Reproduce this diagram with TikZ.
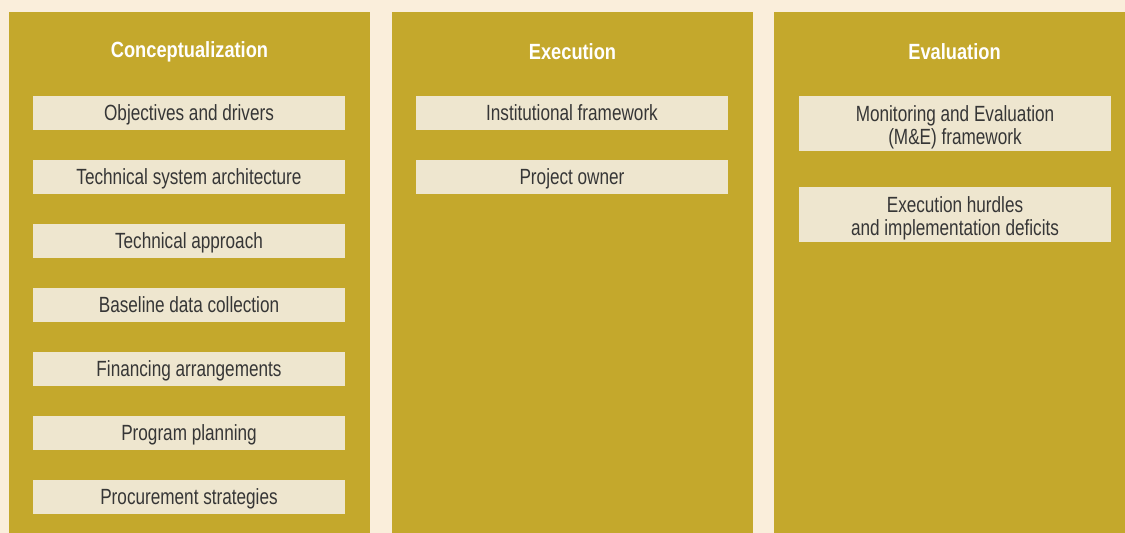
\documentclass[tikz,border=0pt]{standalone}
\usepackage{fontspec}
\setmainfont{Liberation Sans}[FakeStretch=0.78]
\newfontfamily\headfont{Liberation Sans}[FakeStretch=0.83]
\usepackage{xcolor}
\usetikzlibrary{calc}

\definecolor{paper}{HTML}{FAEEDB}
\definecolor{gold}{HTML}{C4A82C}
\definecolor{boxfill}{HTML}{EEE6CF}
\definecolor{ink}{HTML}{363636}

\begin{document}
\begin{tikzpicture}[x=1pt, y=-1pt,
    phase/.style={fill=gold, inner sep=0pt, anchor=north west},
    title/.style={text=white, font=\headfont\fontsize{22}{24}\selectfont\bfseries},
    itembase/.style={fill=boxfill, text=ink, inner sep=0pt, minimum width=312pt, align=center, font=\fontsize{22}{23.6}\selectfont},
    item/.style={itembase, minimum height=34pt, text height=14pt, text depth=0pt},
    item2/.style={itembase, minimum height=55pt, text height=47pt}]
      \fill[paper] (0, 0) rectangle (1125, 533);
      \useasboundingbox (0, 0) rectangle (1125, 533);

      \node[phase, minimum width=361pt, minimum height=521pt] (c) at (9, 12) {};
      \node[phase, minimum width=361pt, minimum height=521pt] (x) at (392, 12) {};
      \node[phase, minimum width=351pt, minimum height=521pt] (v) at (774, 12) {};

      \node[title] (c0) at (189.5, 52) {Conceptualization};
      \node[title] (x0) at (572.5, 52) {Execution};
      \node[title] (v0) at (954.5, 52) {Evaluation};

      \node[item] (c1) at (189, 113) {Objectives and drivers};
      \node[item] (c2) at (189, 177) {Technical system architecture};
      \node[item] (c3) at (189, 241) {Technical approach};
      \node[item] (c4) at (189, 305) {Baseline data collection};
      \node[item] (c5) at (189, 369) {Financing arrangements};
      \node[item] (c6) at (189, 433) {Program planning};
      \node[item] (c7) at (189, 497) {Procurement strategies};

      \node[item] (x1) at (572, 113) {Institutional framework};
      \node[item] (x2) at (572, 177) {Project owner};

      \node[item2] (v1) at (955, 123.5) {Monitoring and Evaluation\\(M\&E) framework};
      \node[item2] (v2) at (955, 214.5) {Execution hurdles\\and implementation deficits};
    \end{tikzpicture}
\end{document}
